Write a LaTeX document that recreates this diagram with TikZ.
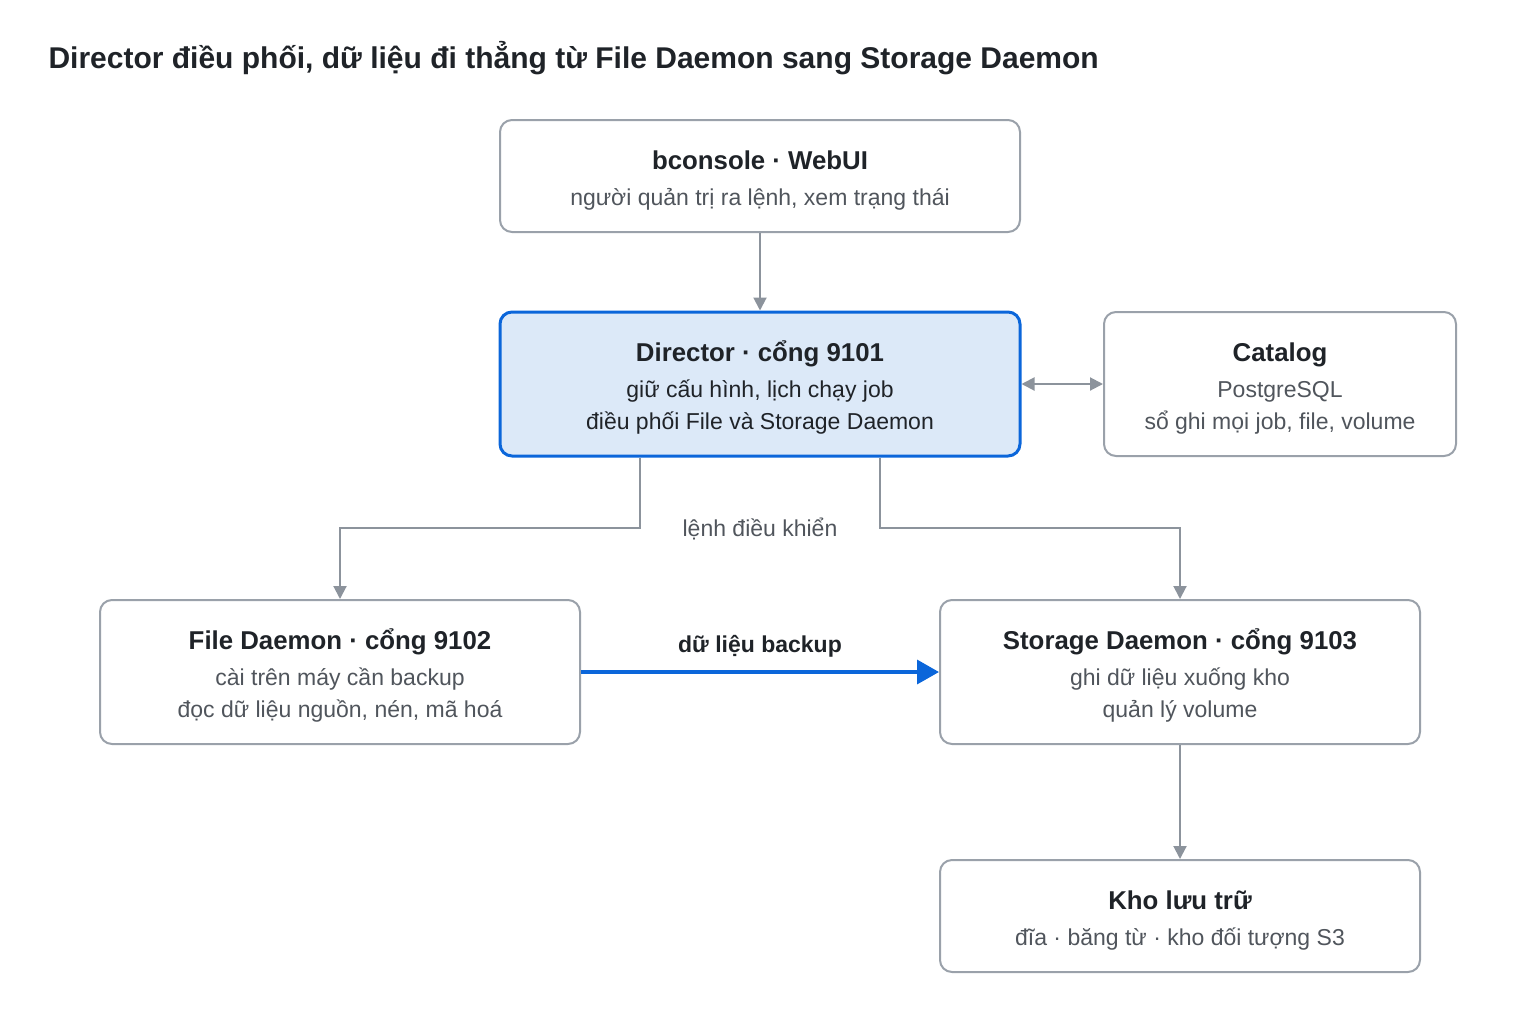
\documentclass[tikz,border=0pt]{standalone}
\usepackage{fontspec}
\setmainfont{Liberation Sans}
\usetikzlibrary{arrows.meta,positioning}
\definecolor{boxline}{HTML}{9AA1AA}
\definecolor{arrline}{HTML}{8C939C}
\definecolor{dirblue}{HTML}{0B66DA}
\definecolor{dirfill}{HTML}{DCE9F8}
\definecolor{txtdark}{HTML}{1F2328}
\definecolor{txtgray}{HTML}{50555C}
\newcommand{\comptitle}[1]{{\fontsize{25.8}{30}\selectfont\bfseries\color{txtdark}\rule{0pt}{27pt}#1}}

\begin{document}
\begin{tikzpicture}[x=1pt, y=-1pt,
  comp/.style={rectangle, draw=boxline, line width=2pt, rounded corners=12pt, fill=white, align=center, text=txtgray, font=\fontsize{23}{32}\selectfont},
  compdir/.style={comp, draw=dirblue, line width=3pt, fill=dirfill, text=txtdark},
  ctl/.style={draw=arrline, line width=2pt, -{Triangle[length=13pt,width=13pt]}},
  data/.style={draw=dirblue, line width=3.5pt, -{Triangle[length=22pt,width=24pt]}}]
\useasboundingbox (0,0) rectangle (1520,1020);
\node[anchor=west, font=\fontsize{30}{36}\selectfont\bfseries, text=txtdark] (title) at (45,58) {Director điều phối, dữ liệu đi thẳng từ File Daemon sang Storage Daemon};
\node[comp, minimum width=520pt, minimum height=112pt] (cons) at (760,176) {\comptitle{bconsole · WebUI}\\[4pt]người quản trị ra lệnh, xem trạng thái};
\node[compdir, minimum width=520pt, minimum height=144pt] (dir) at (760,384) {\comptitle{Director · cổng 9101}\\[4pt]giữ cấu hình, lịch chạy job\\điều phối File và Storage Daemon};
\node[comp, minimum width=352pt, minimum height=144pt] (cat) at (1280,384) {\comptitle{Catalog}\\[4pt]PostgreSQL\\sổ ghi mọi job, file, volume};
\node[comp, minimum width=480pt, minimum height=144pt] (fd) at (340,672) {\comptitle{File Daemon · cổng 9102}\\[4pt]cài trên máy cần backup\\đọc dữ liệu nguồn, nén, mã hoá};
\node[comp, minimum width=480pt, minimum height=144pt] (sd) at (1180,672) {\comptitle{Storage Daemon · cổng 9103}\\[4pt]ghi dữ liệu xuống kho\\quản lý volume};
\node[comp, minimum width=480pt, minimum height=112pt] (kho) at (1180,916) {\comptitle{Kho lưu trữ}\\[4pt]đĩa · băng từ · kho đối tượng S3};
\node[font=\fontsize{23}{28}\selectfont, text=txtgray] (ctllbl) at (760,529) {lệnh điều khiển};
\node[font=\fontsize{23}{28}\selectfont\bfseries, text=txtdark] (datalbl) at (760,646) {dữ liệu backup};
\draw[ctl] (cons) -- (dir);
\draw[ctl, {Triangle[length=13pt,width=13pt]}-{Triangle[length=13pt,width=13pt]}] (dir) -- (cat);
\draw[ctl] ([xshift=-120pt]dir.south) |- (340,528) -- (fd.north);
\draw[ctl] ([xshift=120pt]dir.south) |- (1180,528) -- (sd.north);
\draw[data] (fd) -- (sd);
\draw[ctl] (sd) -- (kho);
\end{tikzpicture}
\end{document}
